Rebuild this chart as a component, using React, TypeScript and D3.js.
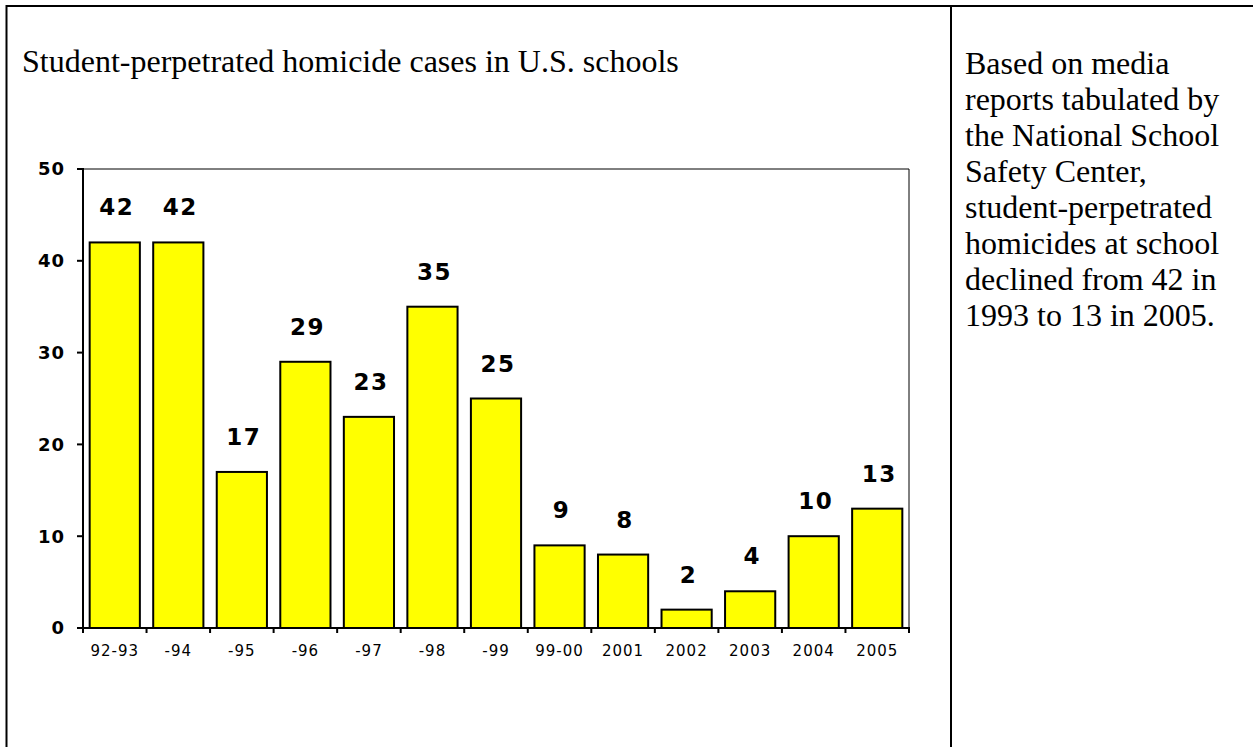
import React from 'react';
import * as d3 from 'd3';

// Student-perpetrated homicide cases, per school year
const categories = ['92-93', '-94', '-95', '-96', '-97', '-98', '-99', '99-00', '2001', '2002', '2003', '2004', '2005'];
const cases = [42, 42, 17, 29, 23, 35, 25, 9, 8, 2, 4, 10, 13];
const yTicks = [0, 10, 20, 30, 40, 50];

const title = 'Student-perpetrated homicide cases in U.S. schools';
const noteLines = [
  'Based on media',
  'reports tabulated by',
  'the National School',
  'Safety Center,',
  'student-perpetrated',
  'homicides at school',
  'declined from 42 in',
  '1993 to 13 in 2005.',
];

const W = 1253;
const H = 747;
const plot = { left: 83, right: 909, top: 169, bottom: 628 };

const serif = '"Liberation Serif", "Times New Roman", serif';
const sans = '"DejaVu Sans", Verdana, sans-serif';

const App: React.FC = () => {
  const x = d3.scaleBand<string>()
    .domain(categories)
    .range([plot.left, plot.right])
    .paddingInner(0.21)
    .paddingOuter(0.105);

  const y = d3.scaleLinear()
    .domain([0, 50])
    .range([plot.bottom, plot.top]);

  const step = x.step();
  const bw = x.bandwidth();
  // category tick marks sit on the band boundaries
  const xTickPos = categories.map(c => (x(c) as number) - (step - bw) / 2).concat([plot.right]);

  return (
    <svg width={W} height={H} style={{ position: 'absolute', left: 0, top: 0, background: '#fff' }}>
      <rect x={0} y={0} width={W} height={H} fill="#fff" />

      {/* table frame */}
      <line x1={6.5} x2={W} y1={6} y2={6} stroke="#000" strokeWidth={2} />
      <line x1={6.5} x2={6.5} y1={5} y2={H} stroke="#000" strokeWidth={2} />
      <line x1={951} x2={951} y1={5} y2={H} stroke="#000" strokeWidth={2} />

      <text x={22} y={72} fontFamily={serif} fontSize={32} fill="#000">{title}</text>

      {noteLines.map((t, i) => (
        <text key={t} x={965} y={74 + i * 36} fontFamily={serif} fontSize={32} fill="#000">{t}</text>
      ))}

      {/* plot box */}
      <line x1={plot.left} x2={plot.right} y1={plot.top} y2={plot.top} stroke="#000" strokeWidth={1} />
      <line x1={plot.right} x2={plot.right} y1={plot.top} y2={plot.bottom} stroke="#000" strokeWidth={1} />

      {categories.map((c, i) => (
        <g key={c}>
          <rect
            x={x(c)}
            y={y(cases[i])}
            width={bw}
            height={y(0) - y(cases[i])}
            fill="#FFFF00"
            stroke="#000"
            strokeWidth={2}
          />
          <text
            x={(x(c) as number) + bw / 2 + 2}
            y={y(cases[i]) - 27}
            textAnchor="middle"
            fontFamily={sans}
            fontWeight="bold"
            fontSize={23}
            letterSpacing={1.5}
            fill="#000"
          >
            {cases[i]}
          </text>
          <text
            x={(x(c) as number) + bw / 2}
            y={656}
            textAnchor="middle"
            fontFamily={sans}
            fontSize={15}
            letterSpacing={1}
            fill="#000"
          >
            {c}
          </text>
        </g>
      ))}

      {/* axes */}
      <line x1={plot.left} x2={plot.left} y1={plot.top - 1} y2={plot.bottom + 1} stroke="#000" strokeWidth={2} />
      <line x1={plot.left - 1} x2={plot.right + 1} y1={plot.bottom} y2={plot.bottom} stroke="#000" strokeWidth={2} />

      {yTicks.map(t => (
        <g key={t}>
          <line x1={plot.left - 6} x2={plot.left} y1={y(t)} y2={y(t)} stroke="#000" strokeWidth={2} />
          <text
            x={65}
            y={y(t)}
            dy="0.36em"
            textAnchor="end"
            fontFamily={sans}
            fontWeight="bold"
            fontSize={18}
            letterSpacing={1}
            fill="#000"
          >
            {t}
          </text>
        </g>
      ))}

      {xTickPos.map((px, i) => (
        <line key={i} x1={px} x2={px} y1={plot.bottom} y2={plot.bottom + 5} stroke="#000" strokeWidth={2} />
      ))}
    </svg>
  );
};

export default App;
